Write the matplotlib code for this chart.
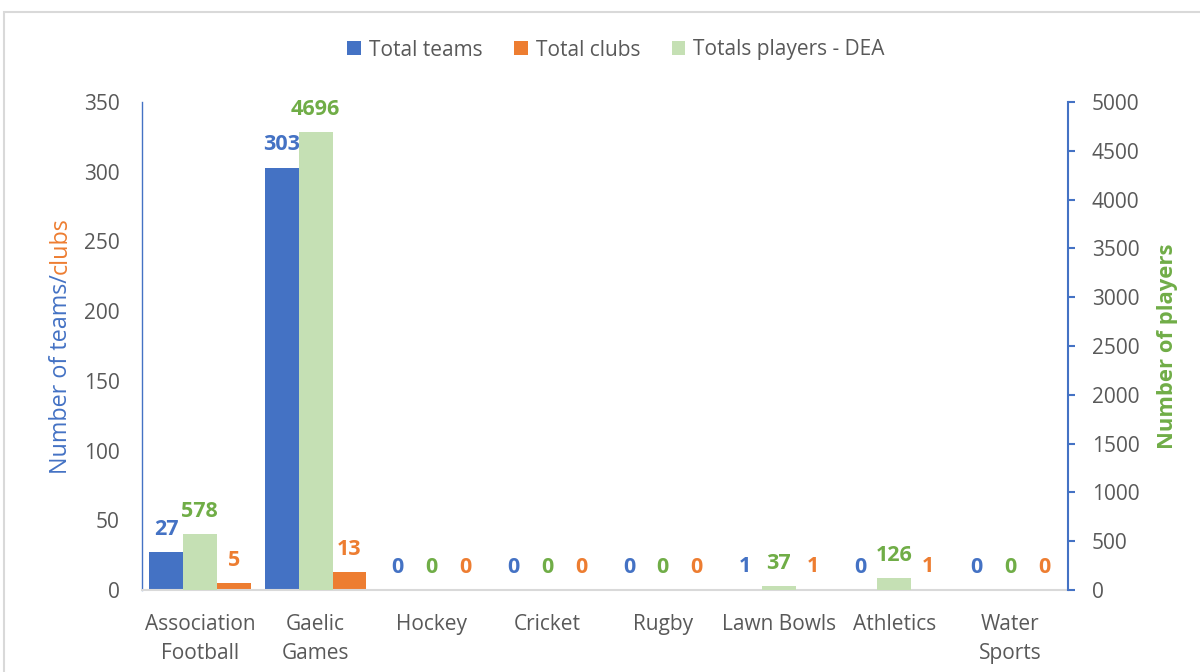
import matplotlib
matplotlib.use("Agg")
import matplotlib.pyplot as plt
import numpy as np
from matplotlib.patches import Rectangle

plt.rcParams['font.family'] = ['Open Sans', 'DejaVu Sans']

categories = ["Association\nFootball", "Gaelic\nGames", "Hockey", "Cricket", "Rugby",
              "Lawn Bowls", "Athletics", "Water\nSports"]
total_teams = [27, 303, 0, 0, 0, 1, 0, 0]
total_clubs = [5, 13, 0, 0, 0, 1, 1, 0]
total_players = [578, 4696, 0, 0, 0, 37, 126, 0]

BLUE = "#4472C4"
ORANGE = "#ED7D31"
GREEN_BAR = "#C5E0B4"
GREEN_TXT = "#70AD47"
GRAY = "#595959"

fig = plt.figure(figsize=(12, 6.72), dpi=100)
fig.patches.append(Rectangle((4/1200, -0.1), 1.2, 1.1 - 12/672, transform=fig.transFigure,
                             fill=False, edgecolor="#D9D9D9", linewidth=1.5))

ax = fig.add_axes([142/1200, 1-590/672, (1068-142)/1200, (590-102)/672])
ax2 = ax.twinx()

x = np.arange(len(categories))
w = 0.292
b1 = ax.bar(x - w, total_teams, w, color=BLUE, label="Total teams")
b3 = ax.bar(x + w, total_clubs, w, color=ORANGE, label="Total clubs")
b2 = ax2.bar(x, total_players, w, color=GREEN_BAR, label="Totals players - DEA")

ax.set_xlim(-0.5, len(categories) - 0.5)
ax.set_ylim(0, 350)
ax2.set_ylim(0, 5000)
ax.set_yticks(np.arange(0, 351, 50))
ax2.set_yticks(np.arange(0, 5001, 500))
ax.set_xticks(x)
ax.set_xticklabels(categories, fontsize=15, color=GRAY, linespacing=1.5)

for a in (ax, ax2):
    a.spines['top'].set_visible(False)
ax.spines['right'].set_visible(False)
ax.spines['left'].set_color(BLUE)
ax.spines['left'].set_linewidth(1.0)
ax.spines['bottom'].set_color("#D9D9D9")
ax.spines['bottom'].set_linewidth(1.5)
ax2.spines['left'].set_visible(False)
ax2.spines['bottom'].set_visible(False)
ax2.spines['right'].set_color(BLUE)
ax2.spines['right'].set_linewidth(1.5)

ax.tick_params(axis='y', length=0, labelsize=15, labelcolor=GRAY, pad=16)
ax.tick_params(axis='x', length=0, pad=17)
ax2.tick_params(axis='y', length=5, width=1.5, color=BLUE, direction='out',
                labelsize=15, labelcolor=GRAY, pad=12)

def label(axis, xs, vals, color):
    for xi, v in zip(xs, vals):
        axis.annotate(str(v), (xi, v), xytext=(0, 12.3), textcoords="offset points",
                      ha="center", va="baseline", fontsize=15.5, fontweight="bold",
                      color=color)

label(ax, x - w, total_teams, BLUE)
label(ax, x + w, total_clubs, ORANGE)
label(ax2, x, total_players, GREEN_TXT)

# y axis titles (two-coloured left title)
t1 = fig.text(61/1200, 1-474/672, "Number of teams/", rotation=90, color=BLUE,
              fontsize=16.8, ha="center", va="bottom")
fig.canvas.draw()
bb = t1.get_window_extent()
fig.text(61/1200, bb.y1/fig.bbox.height, "clubs", rotation=90, color=ORANGE,
         fontsize=16.8, ha="center", va="bottom")
fig.text(1167/1200, 1-346/672, "Number of players", rotation=90, color=GREEN_TXT,
         fontsize=15.8, fontweight="bold", ha="center", va="center")

handles = [b1, b3, b2]
leg = fig.legend(handles, [h.get_label() for h in handles], loc="center",
                 bbox_to_anchor=(616/1200, 1-50/672), ncol=3, frameon=False,
                 fontsize=15, handlelength=0.67, handleheight=0.67, handletextpad=0.38,
                 columnspacing=1.5)
for t in leg.get_texts():
    t.set_color(GRAY)

fig.savefig("out.png", dpi=100)
